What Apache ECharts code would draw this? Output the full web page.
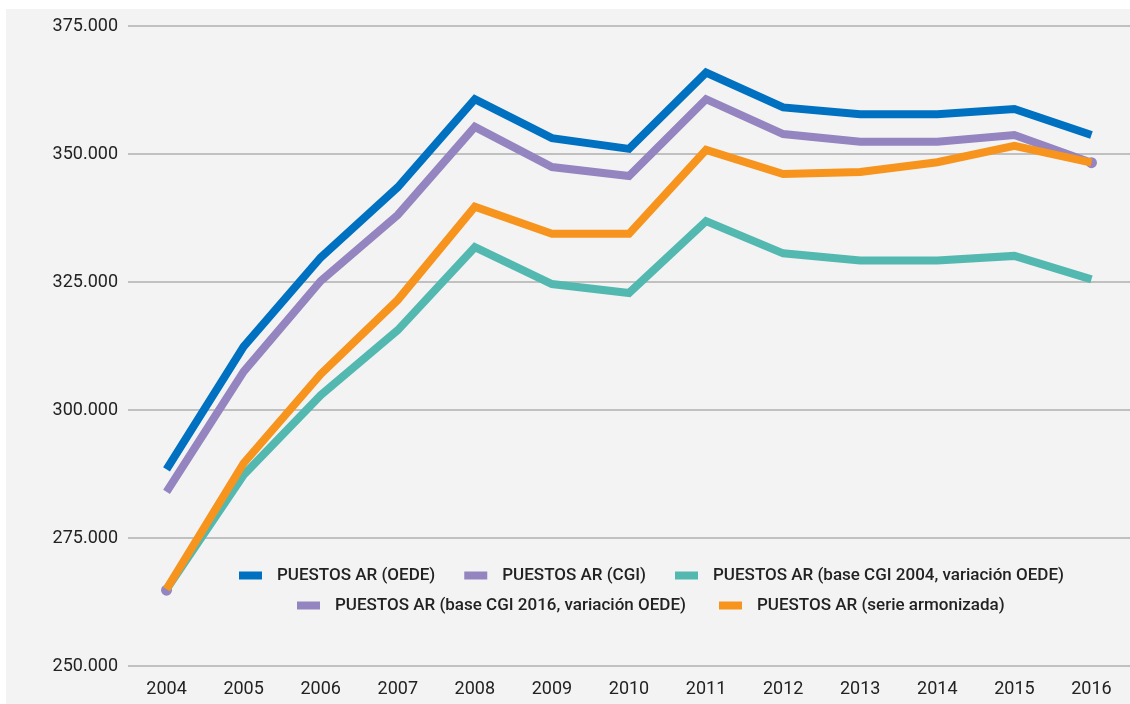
<!DOCTYPE html>
<html>
<head>
<meta charset="utf-8">
<script src="https://cdn.jsdelivr.net/npm/echarts@6/dist/echarts.min.js"></script>
<style>
  html, body { margin: 0; padding: 0; background: #ffffff; width: 1130px; height: 704px; overflow: hidden; }
  #chart { position: absolute; left: 6px; top: 9px; width: 1124px; height: 695px; background: #f3f3f3; }
</style>
</head>
<body>
<div id="chart"></div>
<script>
const years = ['2004','2005','2006','2007','2008','2009','2010','2011','2012','2013','2014','2015','2016'];
const yTicks = { min: 250000, max: 375000, interval: 25000 };

const seriesNames = [
  'PUESTOS AR (OEDE)',
  'PUESTOS AR (CGI)',
  'PUESTOS AR (base CGI 2004, variación OEDE)',
  'PUESTOS AR (base CGI 2016, variación OEDE)',
  'PUESTOS AR (serie armonizada)'
];
const seriesColors = ['#0071c1', '#9484bf', '#53b9b0', '#9484bf', '#f7941e'];

const puestosOEDE = [288400, 312400, 329800, 343500, 360700, 353100, 351000, 365900, 359100, 357750, 357750, 358800, 353700];
const puestosCGI = [264800, null, null, null, null, null, null, null, null, null, null, null, 348300];
const puestosBase2004 = [265000, 287300, 302900, 315600, 331800, 324600, 322850, 336900, 330600, 329200, 329200, 330100, 325500];
const puestosBase2016 = [284000, 307500, 325200, 338100, 355300, 347450, 345700, 360700, 353900, 352400, 352400, 353700, 348300];
const puestosArmonizada = [265000, 289600, 307000, 321500, 339700, 334400, 334400, 350800, 346100, 346500, 348400, 351600, 348300];

const seriesData = [puestosOEDE, puestosCGI, puestosBase2004, puestosBase2016, puestosArmonizada];

function fmt(v) { return String(v).replace(/\B(?=(\d{3})+(?!\d))/g, '.'); }

const chart = echarts.init(document.getElementById('chart'), null, { renderer: 'canvas' });

const legendText = { fontFamily: 'Roboto', fontSize: 17, fontWeight: 500, color: '#222222', padding: [0, 0, 0, 10] };

const option = {
  animation: false,
  backgroundColor: '#f3f3f3',
  textStyle: { fontFamily: 'Roboto' },
  grid: { left: 122, right: -12, top: 17, bottom: 38, containLabel: false },
  legend: [
    {
      data: seriesNames.slice(0, 3),
      left: 228, top: 553,
      icon: 'rect', itemWidth: 23, itemHeight: 8, itemGap: 29,
      textStyle: legendText,
      selectedMode: false
    },
    {
      data: seriesNames.slice(3),
      left: 286, top: 583,
      icon: 'rect', itemWidth: 23, itemHeight: 8, itemGap: 33,
      textStyle: legendText,
      selectedMode: false
    }
  ],
  xAxis: {
    type: 'category',
    data: years,
    boundaryGap: true,
    axisLine: { show: false },
    axisTick: { show: false },
    axisLabel: { fontFamily: 'Roboto', fontSize: 18, color: '#222222', margin: 14 },
    splitLine: { show: false }
  },
  yAxis: {
    type: 'value',
    min: yTicks.min, max: yTicks.max, interval: yTicks.interval,
    axisLine: { show: false },
    axisTick: { show: false },
    axisLabel: { fontFamily: 'Roboto', fontSize: 18, color: '#222222', margin: 10, formatter: fmt },
    splitLine: { show: true, lineStyle: { color: '#c0c0c0', width: 2 } }
  },
  series: seriesNames.map((name, i) => ({
    name: name,
    type: 'line',
    data: seriesData[i],
    color: seriesColors[i],
    lineStyle: { width: 8, color: seriesColors[i], cap: 'butt', join: 'miter' },
    itemStyle: { color: seriesColors[i] },
    showSymbol: i === 1,
    symbol: 'circle',
    symbolSize: i === 1 ? 11 : 4,
    connectNulls: false,
    emphasis: { disabled: true },
    z: 2 + i
  }))
};

chart.setOption(option);
</script>
</body>
</html>
